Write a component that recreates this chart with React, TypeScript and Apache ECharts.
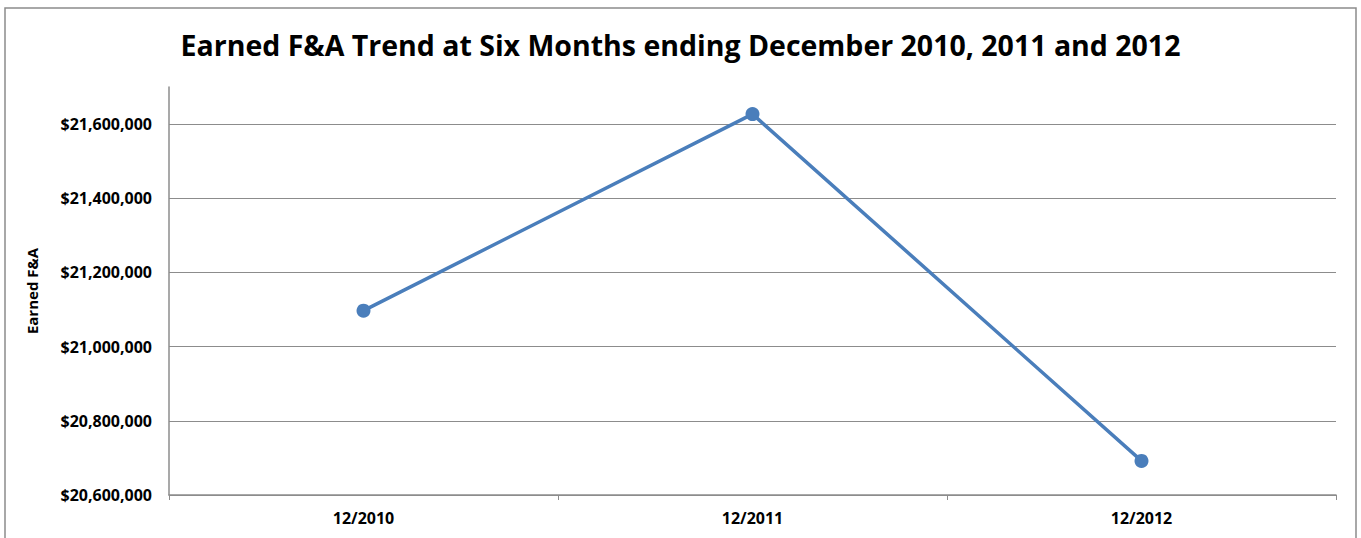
import React, { useEffect, useRef } from "react";
import * as echarts from "echarts";

const categories = ["12/2010", "12/2011", "12/2012"];
const earnedFA = [21097000, 21627000, 20692000];
const yMin = 20600000;
const yMax = 21700000;
const yStep = 200000;

const titleText = "Earned F&A Trend at Six Months ending December 2010, 2011 and 2012";
const yAxisName = "Earned F&A";

function fmtMoney(v: number): string {
  return "$" + Math.round(v).toLocaleString("en-US");
}

export default function App() {
  const ref = useRef<HTMLDivElement>(null);
  useEffect(() => {
    if (!ref.current) return;
    const chart = echarts.init(ref.current, null, { renderer: "svg" });
    const font = "'Open Sans', 'Liberation Sans', sans-serif";
    chart.setOption({
      animation: false,
      backgroundColor: "#ffffff",
      textStyle: { fontFamily: font },
      title: {
        text: titleText,
        left: "center",
        top: 25,
        textStyle: { fontFamily: font, fontWeight: "bold", fontSize: 28.5, color: "#000" },
      },
      graphic: [
        {
          type: "rect",
          shape: { x: 5, y: 8, width: 1351, height: 600 },
          style: { fill: "none", stroke: "#8c8c8c", lineWidth: 1.5 },
          silent: true,
        },
      ],
      grid: { left: 169, right: 25, top: 87, bottom: 43, containLabel: false },
      xAxis: {
        type: "category",
        data: categories,
        boundaryGap: true,
        axisLine: { lineStyle: { color: "#8c8c8c", width: 1.5 } },
        axisTick: { show: true, inside: false, length: 5, lineStyle: { color: "#8c8c8c" } },
        axisLabel: { color: "#000", fontWeight: "bold", fontSize: 16, margin: 15, fontFamily: font },
      },
      yAxis: {
        type: "value",
        min: yMin,
        max: yMax,
        interval: yStep,
        name: yAxisName,
        nameLocation: "middle",
        nameGap: 130,
        nameRotate: 90,
        nameTextStyle: { color: "#000", fontWeight: "bold", fontSize: 15, fontFamily: font },
        axisLine: { show: true, lineStyle: { color: "#8c8c8c", width: 1.5 } },
        axisTick: { show: false },
        axisLabel: {
          color: "#000",
          fontWeight: "bold",
          fontSize: 16,
          margin: 17,
          fontFamily: font,
          showMaxLabel: false,
          formatter: (v: number) => (v % yStep === 0 ? fmtMoney(v) : ""),
        },
        splitLine: {
          show: true,
          showMaxLine: false,
          lineStyle: { color: "#8c8c8c", width: 1.2 },
        },
      },
      series: [
        {
          type: "line",
          data: earnedFA,
          symbol: "circle",
          symbolSize: 14,
          lineStyle: { color: "#4a7ebb", width: 3.5 },
          itemStyle: { color: "#4a7ebb" },
        },
      ],
    });
    return () => chart.dispose();
  }, []);
  return (
    <div
      ref={ref}
      style={{ position: "fixed", left: 0, top: 0, width: 1361, height: 538 }}
    />
  );
}
